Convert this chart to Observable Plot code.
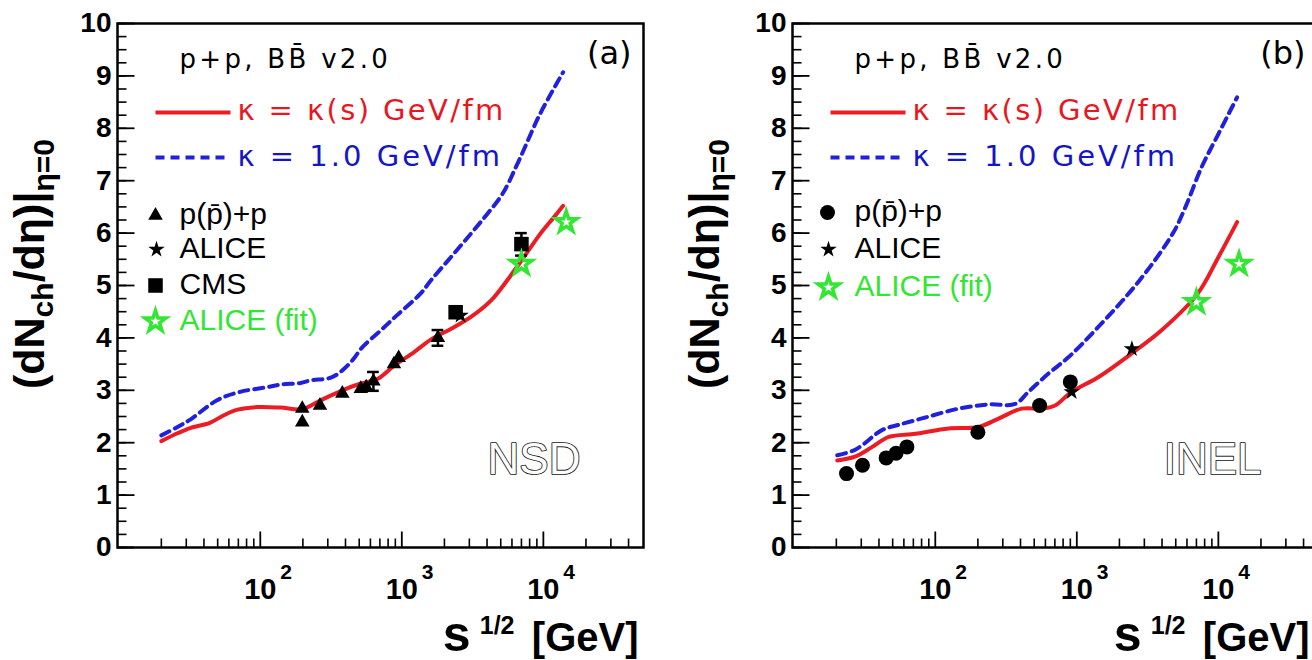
<!DOCTYPE html>
<html><head><meta charset="utf-8">
<script src="https://cdn.jsdelivr.net/npm/d3@7"></script>
<script src="https://cdn.jsdelivr.net/npm/@observablehq/plot@0.6"></script>
<style>
html,body{margin:0;padding:0;background:#fff;}
#wrap{position:relative;width:1312px;height:660px;overflow:hidden;background:#fff;}
#wrap svg{position:absolute;top:0;}
.ls-hdr text{letter-spacing:3.3px;}
.ls-red text{letter-spacing:2.4px;}
.ls-blue text{letter-spacing:3px;}
</style></head><body><div id="wrap"></div>
<script>
// ---------- data: panel (a) NSD ----------
const nsdRedX = [20, 26, 32, 44, 55, 69, 95, 139, 198, 267, 380, 513, 676, 883, 1222, 1650, 2220, 3080, 4260, 5560, 7280, 9540, 11860, 13800];
const nsdRedY = [2.03, 2.18, 2.28, 2.38, 2.52, 2.63, 2.68, 2.67, 2.64, 2.81, 3.00, 3.13, 3.22, 3.47, 3.73, 3.99, 4.17, 4.40, 4.71, 5.10, 5.54, 5.99, 6.30, 6.52];
const nsdBlueX = [20, 26, 32, 49.5, 72, 112, 139, 193, 227, 315, 380, 447, 525, 708, 922, 1350, 1608, 2220, 3080, 4030, 5150, 6710, 9460, 13800];
const nsdBlueY = [2.14, 2.30, 2.44, 2.81, 2.97, 3.06, 3.11, 3.14, 3.19, 3.24, 3.38, 3.57, 3.82, 4.14, 4.43, 4.84, 5.10, 5.54, 5.99, 6.37, 6.75, 7.38, 8.27, 9.07];
const nsdTriX = [198, 198, 264, 380, 513, 560, 630, 880, 950, 1800];
const nsdTriY = [2.39, 2.65, 2.71, 2.94, 3.03, 3.06, 3.17, 3.50, 3.62, 4.00];
const nsdAliceX = [2600];
const nsdAliceY = [4.43];
const nsdCmsX = [2400, 7000];
const nsdCmsY = [4.49, 5.79];
const nsdFitX = [7000, 14500];
const nsdFitY = [5.41, 6.21];
const nsdErrX = [630, 1800, 7000];
const nsdErrLo = [2.99, 3.85, 5.57];
const nsdErrHi = [3.35, 4.15, 6.00];

// ---------- data: panel (b) INEL ----------
const inelRedX = [20.3, 27.4, 35.9, 47, 72.4, 124, 202, 280, 408, 565, 701, 918, 1416, 2430, 3950, 7130, 10000, 13560];
const inelRedY = [1.66, 1.74, 1.92, 2.11, 2.17, 2.27, 2.30, 2.46, 2.65, 2.65, 2.71, 2.97, 3.25, 3.70, 4.14, 4.84, 5.54, 6.21];
const inelBlueX = [20.3, 27.4, 42, 55, 85, 146, 238, 367, 455, 631, 872, 1343, 2780, 4760, 5840, 7620, 10000, 13560];
const inelBlueY = [1.76, 1.87, 2.24, 2.34, 2.48, 2.65, 2.73, 2.74, 2.97, 3.32, 3.63, 4.14, 5.10, 5.99, 6.49, 7.26, 7.89, 8.59];
const inelCircX = [23.6, 30.6, 45, 52.8, 63, 200, 546, 900];
const inelCircY = [1.41, 1.57, 1.71, 1.80, 1.92, 2.20, 2.71, 3.16];
const inelAliceX = [920, 2450];
const inelAliceY = [2.97, 3.79];
const inelFitX = [7000, 14000];
const inelFitY = [4.68, 5.41];

// ---------- ticks and labels ----------
const yTicks = [0, 1, 2, 3, 4, 5, 6, 7, 8, 9, 10];
const yMinor = d3.range(0, 10.01, 0.25);
const decades = [100, 1000, 10000];
const decadeExp = ["2", "3", "4"];
const xMinor = [20,30,40,50,60,70,80,90,200,300,400,500,600,700,800,900,2000,3000,4000,5000,6000,7000,8000,9000,20000,30000,40000];
const headerText = "p+p, BB\u0304 v2.0";
const curveLabels = ["\u03ba = \u03ba(s) GeV/fm", "\u03ba = 1.0 GeV/fm"];
const nsdMarkerLabels = ["p(p\u0304)+p", "ALICE", "CMS", "ALICE (fit)"];
const inelMarkerLabels = ["p(p\u0304)+p", "ALICE", "ALICE (fit)"];

const RED = "#ec1c24", BLUE = "#2121dd", GREEN = "#33e633";
const RED_T = "#e8171f", BLUE_T = "#1414c8";
const FB = "Liberation Sans, Arial, Helvetica, sans-serif";
const FT = "DejaVu Sans, Verdana, sans-serif";

const pts = (xs, ys) => xs.map((x, i) => ({x, y: ys[i]}));
const len = size => Math.sqrt(size / Math.PI);
const lineSym = {draw(ctx, size) { const r = len(size); ctx.moveTo(-r, 0); ctx.lineTo(r, 0); }};
const tickUp = {draw(ctx, size) { const l = len(size); ctx.moveTo(0, 0); ctx.lineTo(0, -l); }};
const tickRight = {draw(ctx, size) { const l = len(size); ctx.moveTo(0, 0); ctx.lineTo(l, 0); }};

function panel(cfg) {
  const marks = [
    Plot.line(cfg.blue, {x: "x", y: "y", stroke: BLUE, strokeWidth: 4, strokeDasharray: "9,6", curve: "catmull-rom"}),
    Plot.line(cfg.red, {x: "x", y: "y", stroke: RED, strokeWidth: 4, curve: "catmull-rom"}),
    // ticks inside frame
    Plot.dot(yMinor, {y: d => d, frameAnchor: "left", symbol: tickRight, r: 9, fill: "none", stroke: "#000", strokeWidth: 1.6}),
    Plot.dot(yTicks, {y: d => d, frameAnchor: "left", symbol: tickRight, r: 17, fill: "none", stroke: "#000", strokeWidth: 1.8}),
    Plot.dot(xMinor, {x: d => d, frameAnchor: "bottom", symbol: tickUp, r: 9, fill: "none", stroke: "#000", strokeWidth: 1.6}),
    Plot.dot(decades, {x: d => d, frameAnchor: "bottom", symbol: tickUp, r: 16, fill: "none", stroke: "#000", strokeWidth: 1.8}),
    Plot.text(yTicks, {y: d => d, frameAnchor: "left", textAnchor: "end", dx: -6, text: d => String(d), fontSize: 28, fontWeight: "bold", fontFamily: FB, fill: "#000"}),
    Plot.text(decades, {x: d => d, frameAnchor: "bottom", lineAnchor: "bottom", dy: 51, text: () => "10", fontSize: 29, fontWeight: "bold", fontFamily: FB, fill: "#000"}),
    Plot.text(decades, {x: d => d, frameAnchor: "bottom", lineAnchor: "bottom", textAnchor: "start", dx: 20, dy: 31, text: (d, i) => decadeExp[i], fontSize: 21, fontWeight: "bold", fontFamily: FB, fill: "#000"}),
    // x title
    Plot.text(["[GeV]"], {frameAnchor: "bottom-right", textAnchor: "end", lineAnchor: "bottom", dx: cfg.xlabDx, dy: 103, text: d => d, fontSize: 40, fontWeight: "bold", fontFamily: FB, fill: "#000"}),
    Plot.text(["1/2"], {frameAnchor: "bottom-right", textAnchor: "end", lineAnchor: "bottom", dx: cfg.xlabDx - 124, dy: 86, text: d => d, fontSize: 25, fontWeight: "bold", fontFamily: FB, fill: "#000"}),
    Plot.text(["s"], {frameAnchor: "bottom-right", textAnchor: "end", lineAnchor: "bottom", dx: cfg.xlabDx - 168, dy: 103, text: d => d, fontSize: 50, fontWeight: "bold", fontFamily: FB, fill: "#000"}),
    // legend text
    Plot.text([headerText], {frameAnchor: "top-left", textAnchor: "start", lineAnchor: "bottom", dx: 62, dy: 44, text: d => d, fontSize: 26, fontFamily: FT, fill: "#000", className: "ls-hdr"}),
    Plot.dot([0], {frameAnchor: "top-left", dx: 75.5, dy: 89, symbol: lineSym, r: 37.5, fill: "none", stroke: RED, strokeWidth: 4}),
    Plot.dot([0], {frameAnchor: "top-left", dx: 75.5, dy: 134, symbol: lineSym, r: 37.5, fill: "none", stroke: BLUE, strokeWidth: 4, strokeDasharray: "9,6"}),
    Plot.text([curveLabels[0]], {frameAnchor: "top-left", textAnchor: "start", lineAnchor: "bottom", dx: 120, dy: 96, text: d => d, fontSize: 29, fontFamily: FT, fill: RED_T, className: "ls-red"}),
    Plot.text([curveLabels[1]], {frameAnchor: "top-left", textAnchor: "start", lineAnchor: "bottom", dx: 120, dy: 142, text: d => d, fontSize: 29, fontFamily: FT, fill: BLUE_T, className: "ls-blue"}),
    Plot.text([cfg.tag], {frameAnchor: "top-right", textAnchor: "end", lineAnchor: "bottom", dx: cfg.tagDx, dy: 40, text: d => d, fontSize: 32, fontFamily: FT, fill: "#000"}),
    Plot.text([cfg.sel], {frameAnchor: "bottom-right", textAnchor: "end", lineAnchor: "bottom", dx: cfg.selDx, dy: -74, text: d => d, fontSize: 44, fontFamily: FB, fill: "#fff", stroke: "#111", strokeWidth: 1.7}),
  ];
  // error bars
  if (cfg.err.length) {
    marks.push(
      Plot.ruleX(cfg.err, {x: "x", y1: "lo", y2: "hi", stroke: "#000", strokeWidth: 2.5}),
      Plot.ruleY(cfg.err, {y: "hi", x1: d => d.x / 1.1, x2: d => d.x * 1.1, stroke: "#000", strokeWidth: 2.5}),
      Plot.ruleY(cfg.err, {y: "lo", x1: d => d.x / 1.1, x2: d => d.x * 1.1, stroke: "#000", strokeWidth: 2.5})
    );
  }
  // markers and marker legend
  cfg.markers.forEach((m) => {
    const style = m.open ? {fill: "none", stroke: GREEN, strokeWidth: 3.5} : {fill: "#000", stroke: "none"};
    marks.push(Plot.dot(m.data, {x: "x", y: "y", symbol: m.symbol, r: m.r, ...style}));
    marks.push(Plot.dot([0], {frameAnchor: "top-left", dx: m.ldx, dy: m.ldy, symbol: m.symbol, r: m.r, ...style}));
    marks.push(Plot.text([m.label], {frameAnchor: "top-left", textAnchor: "start", lineAnchor: "bottom", dx: 62, dy: m.ldy + 8, text: d => d, fontSize: 30, fontFamily: FB, fill: m.open ? GREEN : "#000"}));
  });
  marks.push(Plot.frame({stroke: "#000", strokeWidth: 2.5}));

  const svg = Plot.plot({
    width: 675, height: 660,
    marginLeft: 117, marginRight: 32, marginTop: 23, marginBottom: 113,
    x: {type: "log", domain: [9.8, 51000], axis: null},
    y: {domain: [0, 10], axis: null},
    style: {background: "#fff", overflow: "visible"},
    marks
  });
  const t = d3.select(svg).append("text")
    .attr("transform", "translate(44,264) rotate(-90)")
    .attr("font-family", FB).attr("font-weight", "bold").attr("fill", "#000");
  t.append("tspan").attr("font-size", 43).text("(dN");
  t.append("tspan").attr("font-size", 30).attr("dy", 9).text("ch");
  t.append("tspan").attr("font-size", 43).attr("dy", -9).text("/d\u03b7)|");
  t.append("tspan").attr("font-size", 30).attr("dy", 10).text("\u03b7=0");
  svg.style.left = cfg.left + "px";
  return svg;
}

const wrap = document.getElementById("wrap");
wrap.appendChild(panel({
  left: 0, tag: "(a)", tagDx: -12, sel: "NSD", selDx: -63, xlabDx: -5,
  red: pts(nsdRedX, nsdRedY), blue: pts(nsdBlueX, nsdBlueY),
  err: nsdErrX.map((x, i) => ({x, lo: nsdErrLo[i], hi: nsdErrHi[i]})),
  markers: [
    {data: pts(nsdTriX, nsdTriY), symbol: "triangle", r: 5.4, label: nsdMarkerLabels[0], ldx: 38, ldy: 192},
    {data: pts(nsdAliceX, nsdAliceY), symbol: "star", r: 5.2, label: nsdMarkerLabels[1], ldx: 39, ldy: 226},
    {data: pts(nsdCmsX, nsdCmsY), symbol: "square", r: 8.2, label: nsdMarkerLabels[2], ldx: 38, ldy: 262},
    {data: pts(nsdFitX, nsdFitY), symbol: "star", r: 6.6, open: true, label: nsdMarkerLabels[3], ldx: 38, ldy: 298}
  ]
}));
wrap.appendChild(panel({
  left: 675, tag: "(b)", tagDx: -13, sel: "INEL", selDx: -57, xlabDx: -9,
  red: pts(inelRedX, inelRedY), blue: pts(inelBlueX, inelBlueY),
  err: [],
  markers: [
    {data: pts(inelCircX, inelCircY), symbol: "circle", r: 7.5, label: inelMarkerLabels[0], ldx: 35, ldy: 189},
    {data: pts(inelAliceX, inelAliceY), symbol: "star", r: 5.2, label: inelMarkerLabels[1], ldx: 36, ldy: 226},
    {data: pts(inelFitX, inelFitY), symbol: "star", r: 6.6, open: true, label: inelMarkerLabels[2], ldx: 36, ldy: 264}
  ]
}));
</script></body></html>
